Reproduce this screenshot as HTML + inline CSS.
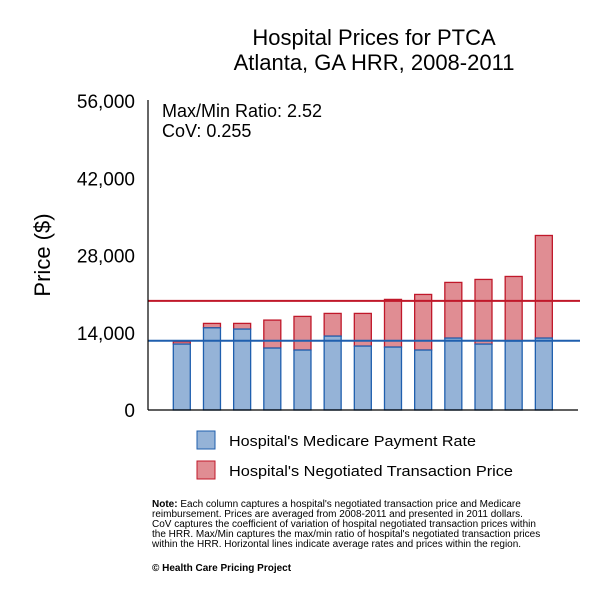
<!DOCTYPE html>
<html><head><meta charset="utf-8"><style>
body{margin:0;background:#fff;font-family:"Liberation Sans",sans-serif}
svg text{font-family:"Liberation Sans",sans-serif}
</style></head><body>
<svg id="c" width="600" height="600">
<text x="374" y="45" font-size="22" text-anchor="middle">Hospital Prices for PTCA</text>
<text x="374" y="70" font-size="22" text-anchor="middle">Atlanta, GA HRR, 2008-2011</text>
<text x="162" y="117" font-size="18">Max/Min Ratio: 2.52</text>
<text x="162" y="137" font-size="18">CoV: 0.255</text>
<text transform="translate(50,255) rotate(-90)" font-size="22" text-anchor="middle">Price ($)</text>
<g id="ticks"></g><g id="bars"></g><g id="lines"></g>
<line x1="148" y1="100" x2="148" y2="410" stroke="#000" stroke-width="1.2"/>
<line x1="148" y1="410" x2="578" y2="410" stroke="#000" stroke-width="1.2"/>
<rect x="197" y="431" width="18" height="18" fill="#95b3d7" stroke="#1f5fae"/>
<text x="229" y="446" font-size="15" textLength="247" lengthAdjust="spacingAndGlyphs">Hospital's Medicare Payment Rate</text>
<rect x="197" y="461" width="18" height="18" fill="#e08d93" stroke="#c0182a"/>
<text x="229" y="476" font-size="15" textLength="284" lengthAdjust="spacingAndGlyphs">Hospital's Negotiated Transaction Price</text>
<g font-size="10">
<text x="152" y="507"><tspan font-weight="bold">Note:</tspan> Each column captures a hospital's negotiated transaction price and Medicare</text>
<text x="152" y="517">reimbursement. Prices are averaged from 2008-2011 and presented in 2011 dollars.</text>
<text x="152" y="527">CoV captures the coefficient of variation of hospital negotiated transaction prices within</text>
<text x="152" y="537">the HRR. Max/Min captures the max/min ratio of hospital's negotiated transaction prices</text>
<text x="152" y="547">within the HRR. Horizontal lines indicate average rates and prices within the region.</text>
<text x="152" y="571" font-weight="bold">© Health Care Pricing Project</text>
</g>
</svg>
<script>
const medicare=[11950,14900,14670,11230,10870,13400,11590,11410,10870,13040,11950,12500,13040];
const negotiated=[12370,15700,15700,16300,16970,17510,17510,20050,20950,23130,23670,24210,31640];
const avgMedicare=12550, avgNegotiated=19790;
const yTicks=[0,14000,28000,42000,56000];
const NS="http://www.w3.org/2000/svg";
const y=v=>410-v*(308.9/56000);
const x=i=>173.3+i*30.17;
const tg=document.getElementById('ticks');
yTicks.forEach(t=>{const e=document.createElementNS(NS,'text');
e.setAttribute('x',135);e.setAttribute('y',y(t)+7);e.setAttribute('font-size','19');e.setAttribute('text-anchor','end');
e.textContent=t.toLocaleString('en-US');


tg.appendChild(e);});
const bg=document.getElementById('bars');
negotiated.forEach((n,i)=>{const m=medicare[i];
const r=document.createElementNS(NS,'rect');
r.setAttribute('x',x(i));r.setAttribute('width',17);r.setAttribute('y',y(n));r.setAttribute('height',y(m)-y(n));
r.setAttribute('fill','#e08d93');r.setAttribute('stroke','#c0182a');r.setAttribute('stroke-width','1.3');


bg.appendChild(r);
const b=document.createElementNS(NS,'rect');
b.setAttribute('x',x(i));b.setAttribute('width',17);b.setAttribute('y',y(m));b.setAttribute('height',410-y(m));
b.setAttribute('fill','#95b3d7');b.setAttribute('stroke','#1f5fae');b.setAttribute('stroke-width','1.3');


bg.appendChild(b);});
const lg=document.getElementById('lines');
[[avgNegotiated,'#c0182a','avg-negotiated-line'],[avgMedicare,'#1f5fae','avg-medicare-line']].forEach(([v,c,n])=>{
const l=document.createElementNS(NS,'line');
l.setAttribute('x1',148);l.setAttribute('x2',580);l.setAttribute('y1',y(v));l.setAttribute('y2',y(v));
l.setAttribute('stroke',c);l.setAttribute('stroke-width','2');


lg.appendChild(l);});
</script>
</body></html>
